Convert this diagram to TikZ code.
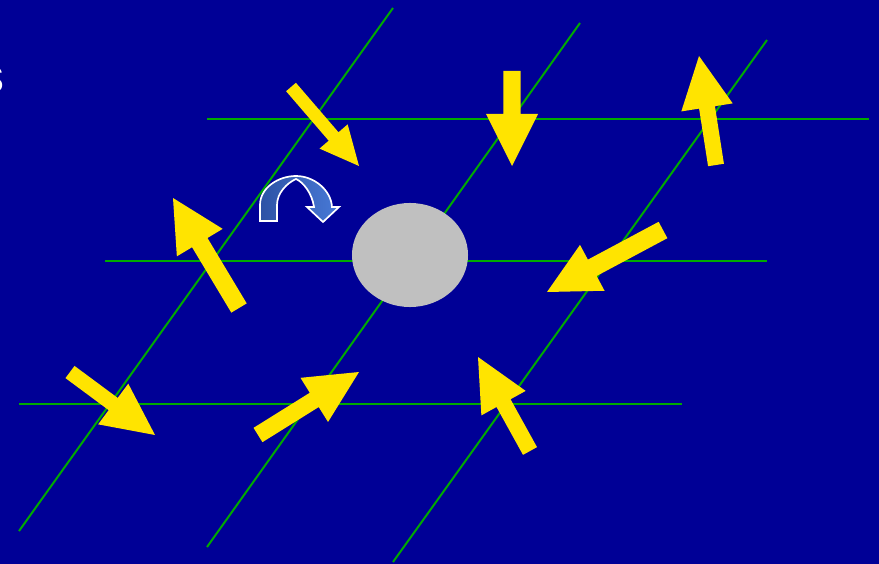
\documentclass[tikz,border=0pt]{standalone}
\usepackage{fontspec}
\setmainfont{Liberation Sans}
\usepackage{xcolor}
\usepackage{tikz}
\usetikzlibrary{calc, shapes.geometric}

\definecolor{slidebg}{RGB}{0,0,150}
\definecolor{gridgreen}{RGB}{0,170,0}
\definecolor{spinyellow}{RGB}{255,228,0}
\definecolor{ballgray}{RGB}{192,192,192}
\definecolor{turndark}{RGB}{45,82,165}
\definecolor{turnlight}{RGB}{72,122,215}

% yellow block arrow: tail, tip, half shaft, half head, head length
\newcommand{\spinarrow}[5]{%
  \coordinate (hb) at ($(#2)!#5!(#1)$);
  \fill[spin] ($(#1)!#3!90:(#2)$) -- ($(hb)!#3!90:(#2)$) -- ($(hb)!#4!90:(#2)$)
    -- (#2) -- ($(hb)!#4!-90:(#2)$) -- ($(hb)!#3!-90:(#2)$) -- ($(#1)!#3!-90:(#2)$) -- cycle;
}

\begin{document}
\begin{tikzpicture}[x=0.025cm, y=-0.025cm,
    grid/.style={gridgreen, line width=1.4pt},
    spin/.style={fill=spinyellow},
    site/.style={ellipse, fill=ballgray, minimum width=2.9cm, minimum height=2.6cm, inner sep=0pt},
    turn/.style={draw=white, line width=1.2pt, left color=turndark, right color=turnlight}]
    \fill[slidebg] (0,0) rectangle (879,564);
    \useasboundingbox (0,0) rectangle (879,564);

    \node[white, anchor=base east, inner sep=0pt, font=\fontsize{34}{40}\selectfont] (cut) at (5,93) {s};

    % lattice
    \draw[grid] (207,119) -- (869,119);
    \draw[grid] (105,261) -- (767,261);
    \draw[grid] (19,404) -- (682,404);
    \draw[grid] (19,531) -- (393,8);
    \draw[grid] (207,547) -- (580,23);
    \draw[grid] (393,562) -- (767,40);

    \node[site] (vac) at (410,255) {};

    % spins
    \spinarrow{291,87}{359,166}{4.6pt}{13.2pt}{27.7pt}
    \spinarrow{512,71}{512,166}{6.1pt}{18.5pt}{37pt}
    \spinarrow{716,165}{699,56}{5.7pt}{18.5pt}{37pt}
    \spinarrow{239,308}{173,198}{6.4pt}{19pt}{37pt}
    \spinarrow{663,230}{547,292}{6.6pt}{18.5pt}{36.5pt}
    \spinarrow{70,372}{155,435}{5.4pt}{18pt}{37pt}
    \spinarrow{258,435}{359,372}{6pt}{18.5pt}{37.5pt}
    \spinarrow{530,451}{478,357}{5.7pt}{18pt}{37.5pt}

    % rotation
    \draw[turn] (260,221) -- (260,205) .. controls (260,188) and (278,176) .. (296,176)
        .. controls (314,176) and (331,190) .. (332,207) -- (339,207) -- (323,222) -- (307,207)
        -- (314,207) .. controls (312,193) and (303,182) .. (296,179)
        .. controls (287,183) and (277,193) .. (277,205) -- (277,221) -- cycle;
\end{tikzpicture}
\end{document}
